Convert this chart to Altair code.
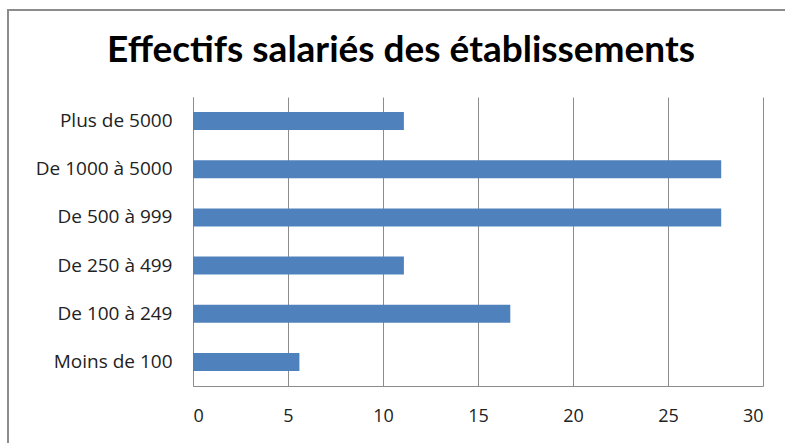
import altair as alt
import pandas as pd

categories = ["Plus de 5000", "De 1000 à 5000", "De 500 à 999", "De 250 à 499", "De 100 à 249", "Moins de 100"]
values = [11.1, 27.8, 27.8, 11.1, 16.7, 5.6]
title_text = "Effectifs salariés des établissements"

df = pd.DataFrame({"cat": categories, "val": values})

FONT = "Open Sans"

bars = alt.Chart(df).mark_bar(color="#4F81BD").encode(
    x=alt.X("val:Q", scale=alt.Scale(domain=[0, 30], nice=False),
            axis=alt.Axis(values=[0, 5, 10, 15, 20, 25, 30], title=None, grid=True,
                          gridColor="#8c8c8c", gridWidth=1, domainColor="#8c8c8c",
                          ticks=False, labelPadding=21, labelFont=FONT, labelFontSize=18,
                          labelColor="#222222")),
    y=alt.Y("cat:N", sort=categories,
            scale=alt.Scale(paddingInner=0.627, paddingOuter=0.3135),
            axis=alt.Axis(title=None, ticks=False, domainColor="#8c8c8c", labelPadding=21,
                          labelFont=FONT, labelFontSize=19, labelColor="#222222")),
)

frame = alt.Chart(pd.DataFrame({"a": [0]})).mark_rect(
    fill=None, stroke="#8c8c8c", strokeWidth=2
).encode(
    x=alt.value(-185), x2=alt.value(640), y=alt.value(-87), y2=alt.value(400)
)

title = alt.Chart(pd.DataFrame({"t": [title_text]})).mark_text(
    font="Lato", fontSize=37, fontWeight="bold", color="#000000",
    align="center", baseline="alphabetic"
).encode(text="t:N", x=alt.value(208), y=alt.value(-35))

chart = alt.layer(frame, bars, title).properties(
    width=570, height=289,
    autosize=alt.AutoSizeParams(type="none"),
    padding={"left": 193, "top": 97, "right": 22, "bottom": 57},
).configure_view(stroke=None)

chart.save("out.html", embed_options={"renderer": "svg", "actions": False})
